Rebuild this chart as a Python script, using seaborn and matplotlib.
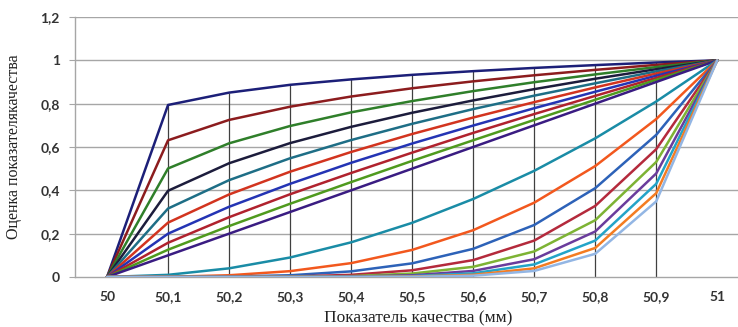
import numpy as np
import pandas as pd
import matplotlib
matplotlib.use("Agg")
import matplotlib.pyplot as plt
import seaborn as sns

# ---- data ----
x_values = [50.0, 50.1, 50.2, 50.3, 50.4, 50.5, 50.6, 50.7, 50.8, 50.9, 51.0]
x_labels = ["50", "50,1", "50,2", "50,3", "50,4", "50,5", "50,6", "50,7", "50,8", "50,9", "51"]
y_ticks = [0, 0.2, 0.4, 0.6, 0.8, 1.0, 1.2]
y_labels = ["0", "0,2", "0,4", "0,6", "0,8", "1", "1,2"]

s01 = [0, 0.794, 0.851, 0.887, 0.912, 0.933, 0.950, 0.965, 0.978, 0.990, 1]
s02 = [0, 0.631, 0.725, 0.786, 0.833, 0.871, 0.903, 0.931, 0.956, 0.979, 1]
s03 = [0, 0.501, 0.617, 0.697, 0.760, 0.812, 0.858, 0.899, 0.935, 0.969, 1]
s04 = [0, 0.398, 0.525, 0.618, 0.693, 0.758, 0.815, 0.867, 0.915, 0.959, 1]
s05 = [0, 0.316, 0.447, 0.548, 0.632, 0.707, 0.775, 0.837, 0.894, 0.949, 1]
s06 = [0, 0.251, 0.381, 0.486, 0.577, 0.660, 0.736, 0.807, 0.875, 0.939, 1]
s07 = [0, 0.200, 0.324, 0.430, 0.527, 0.616, 0.699, 0.779, 0.855, 0.929, 1]
s08 = [0, 0.158, 0.276, 0.382, 0.480, 0.574, 0.665, 0.752, 0.836, 0.919, 1]
s09 = [0, 0.126, 0.235, 0.338, 0.438, 0.536, 0.631, 0.725, 0.818, 0.910, 1]
s10 = [0, 0.100, 0.200, 0.300, 0.400, 0.500, 0.600, 0.700, 0.800, 0.900, 1]
s2 = [0, 0.010, 0.040, 0.090, 0.160, 0.250, 0.360, 0.490, 0.640, 0.810, 1]
s3 = [0, 0.001, 0.008, 0.027, 0.064, 0.125, 0.216, 0.343, 0.512, 0.729, 1]
s4 = [0, 0.000, 0.002, 0.008, 0.026, 0.063, 0.130, 0.240, 0.410, 0.656, 1]
s5 = [0, 0.000, 0.000, 0.002, 0.010, 0.031, 0.078, 0.168, 0.328, 0.590, 1]
s6 = [0, 0.000, 0.000, 0.001, 0.004, 0.016, 0.047, 0.118, 0.262, 0.531, 1]
s7 = [0, 0.000, 0.000, 0.000, 0.002, 0.008, 0.028, 0.082, 0.210, 0.478, 1]
s8 = [0, 0.000, 0.000, 0.000, 0.001, 0.004, 0.017, 0.058, 0.168, 0.430, 1]
s9 = [0, 0.000, 0.000, 0.000, 0.000, 0.002, 0.010, 0.040, 0.134, 0.387, 1]
s10b = [0, 0.000, 0.000, 0.000, 0.000, 0.001, 0.006, 0.028, 0.107, 0.349, 1]

series = {
    "0.1": s01, "0.2": s02, "0.3": s03, "0.4": s04, "0.5": s05,
    "0.6": s06, "0.7": s07, "0.8": s08, "0.9": s09, "1": s10,
    "2": s2, "3": s3, "4": s4, "5": s5, "6": s6,
    "7": s7, "8": s8, "9": s9, "10": s10b,
}
colors = [
    "#1c1f78", "#8c1c1e", "#2f7f2a", "#1c1c3c", "#1e6e86",
    "#d2341f", "#2434b4", "#b0222e", "#4f9a1e", "#3a1c82",
    "#1a8ca6", "#f2581e", "#2d62b8", "#b42a3c", "#7db334",
    "#6a3c9c", "#23a4c8", "#f47c22", "#93b6e4",
]

rows = []
for name, vals in series.items():
    for xv, yv in zip(x_values, vals):
        rows.append({"x": xv, "y": yv, "series": name})
df = pd.DataFrame(rows)

sns.set_style("white")
fig = plt.figure(figsize=(7.38, 3.27), dpi=100)
ax = fig.add_axes([75 / 738, 1 - 277 / 327, 1 - 75 / 738, (277 - 17) / 327])

# horizontal gridlines
for yt in y_ticks[1:]:
    ax.axhline(yt, color="#a6a6a6", lw=1.0, zorder=0)

# drop lines from highest value to axis
all_vals = np.array(list(series.values()))
tops = all_vals.max(axis=0)
ax.vlines(x_values[1:-1], 0, tops[1:-1], color="#404040", lw=0.9, zorder=1)

sns.lineplot(data=df, x="x", y="y", hue="series", palette=colors,
             linewidth=1.8, legend=False, ax=ax, zorder=3)

ax.set_xlim(50 - 0.0525, 51.034)
ax.set_ylim(0, 1.2)
ax.set_xticks(x_values)
ax.set_xticklabels(x_labels)
ax.set_yticks(y_ticks)
ax.set_yticklabels(y_labels)

for lab in ax.get_xticklabels() + ax.get_yticklabels():
    lab.set_fontfamily("Lato")
    lab.set_fontsize(10)
    lab.set_fontweight("bold")
    lab.set_color("#333333")
ax.tick_params(axis="x", length=0, pad=10)
ax.tick_params(axis="y", length=4, width=0.8, color="#a6a6a6", pad=7, direction="out", left=True)

for sp in ["top", "right"]:
    ax.spines[sp].set_visible(False)
ax.spines["left"].set_color("#a6a6a6")
ax.spines["left"].set_linewidth(1.0)
ax.spines["bottom"].set_color("#a6a6a6")
ax.spines["bottom"].set_linewidth(1.0)

ax.set_xlabel("Показатель качества (мм)", family="Liberation Serif", fontsize=12.5, color="#222222")
ax.set_ylabel("Оценка показателякачества", family="Liberation Serif", fontsize=11.5, color="#222222")
ax.xaxis.set_label_coords((418 - 75) / (738 - 75), -(310 - 277) / 260)
ax.yaxis.set_label_coords(-(75 - 22) / (738 - 75), 0.5)

fig.savefig("out.png", dpi=100)
